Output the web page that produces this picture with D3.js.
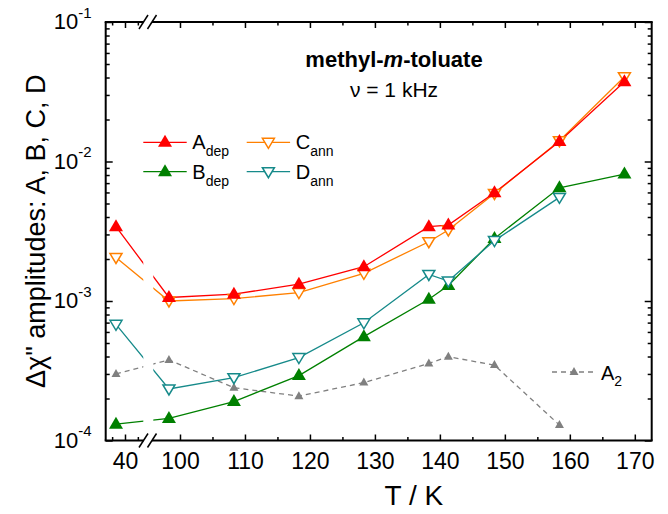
<!DOCTYPE html>
<html>
<head>
<meta charset="utf-8">
<script src="https://cdn.jsdelivr.net/npm/d3@7"></script>
<style>
  body { margin: 0; background: #fff; }
  text { font-family: "Liberation Sans", Arial, sans-serif; }
</style>
</head>
<body>
<svg id="chart" width="668" height="514"></svg>
<script>
// temperatures (K); first point sits in the low-T segment left of the axis break
const temps = [38.6, 98.3, 108.3, 118.3, 128.3, 138.3, 141.3, 148.4, 158.4, 168.4]

const aDep = [3.41e-3, 1.06e-3, 1.12e-3, 1.32e-3, 1.76e-3, 3.41e-3, 3.5e-3, 5.97e-3, 1.39e-2, 3.73e-2]
const cAnn = [2.05e-3, 1.0e-3, 1.04e-3, 1.15e-3, 1.58e-3, 2.66e-3, 3.23e-3, 5.9e-3, 1.41e-2, 4.05e-2]
const bDep = [1.31e-4, 1.44e-4, 1.90e-4, 2.92e-4, 5.55e-4, 1.03e-3, 1.29e-3, 2.81e-3, 6.48e-3, 8.13e-3]
const dAnn = [6.8e-4, 2.34e-4, 2.82e-4, 3.93e-4, 6.98e-4, 1.55e-3, 1.39e-3, 2.71e-3, 5.53e-3, null]
const a2   = [3.0e-4, 3.78e-4, 2.39e-4, 2.08e-4, 2.6e-4, 3.57e-4, 3.99e-4, 3.47e-4, 1.29e-4, null]

const xTicksLow = [40]
const xMinorLow = [38, 42]
const xTicksHigh = [100, 110, 120, 130, 140, 150, 160, 170]
const xMinorHigh = [105, 115, 125, 135, 145, 155, 165]
const yTicks = [1e-4, 1e-3, 1e-2, 1e-1]

const margin = {top: 22, left: 105.7, right: 668 - 651.7, bottom: 514 - 440.5}
const width = 668, height = 514
const breakX = 147.5

const svg = d3.select('#chart')

const xLow = d3.scaleLinear().domain([37, 43.5]).range([margin.left, breakX])
const xHigh = d3.scaleLinear().domain([95, 172.6]).range([breakX, width - margin.right])
const x = t => t < 70 ? xLow(t) : xHigh(t)

const y = d3.scaleLog().domain([1e-4, 1e-1]).range([height - margin.bottom, margin.top])

const yMinor = []
for (let e = -4; e < -1 + 0.1; e++) {
  for (let m = 2; m <= 9; m++) {
    const v = m * Math.pow(10, e)
    if (v < 1e-1) yMinor.push(v)
  }
}

const plotTop = margin.top, plotBot = height - margin.bottom
const plotL = margin.left, plotR = width - margin.right

// ---- series ----
const series = [
  {vals: a2, color: '#808080', dash: '5,4', marker: 'upSmall'},
  {vals: bDep, color: '#008000', marker: 'up'},
  {vals: dAnn, color: '#168a8a', marker: 'down'},
  {vals: cAnn, color: '#ff8000', marker: 'down'},
  {vals: aDep, color: '#ff0000', marker: 'up'}
]

const line = d3.line()
  .defined(d => d.v != null)
  .x(d => x(d.t))
  .y(d => y(d.v))

const lines = svg.append('g')
series.forEach(s => {
  const pts = temps.map((t, i) => ({t: t, v: s.vals[i]}))
  lines.append('path')
    .attr('d', line(pts))
    .attr('fill', 'none')
    .attr('stroke', s.color)
    .attr('stroke-width', 1.3)
    .attr('stroke-dasharray', s.dash || null)
})

// white gap where the lines cross the axis break
svg.append('rect')
  .attr('x', 143.3).attr('y', plotTop + 2)
  .attr('width', 10).attr('height', plotBot - plotTop - 4)
  .attr('fill', '#fff')

function marker(g, type, cx, cy, color) {
  if (type === 'up') {
    g.append('path')
      .attr('d', `M${cx},${cy - 7.5}L${cx + 7},${cy + 4.5}L${cx - 7},${cy + 4.5}Z`)
      .attr('fill', color)
  } else if (type === 'upSmall') {
    g.append('path')
      .attr('d', `M${cx},${cy - 5}L${cx + 4.5},${cy + 3}L${cx - 4.5},${cy + 3}Z`)
      .attr('fill', color)
  } else {
    g.append('path')
      .attr('d', `M${cx - 6},${cy - 4}L${cx + 6},${cy - 4}L${cx},${cy + 6}Z`)
      .attr('fill', '#fff')
      .attr('stroke', color)
      .attr('stroke-width', 1.5)
  }
}

const marks = svg.append('g')
series.forEach(s => {
  temps.forEach((t, i) => {
    if (s.vals[i] == null) return
    marker(marks, s.marker, x(t), y(s.vals[i]), s.color)
  })
})

// ---- axes ----
function xAxisPart(scale, major, minor, bottom) {
  const maker = bottom ? d3.axisBottom : d3.axisTop
  const ty = bottom ? plotBot : plotTop
  const gMaj = svg.append('g')
    .attr('transform', 'translate(0,' + ty + ')')
    .call(maker(scale).tickValues(major).tickSize(-6).tickPadding(bottom ? 12 : 0)
      .tickFormat(bottom ? d3.format('d') : ''))
  const gMin = svg.append('g')
    .attr('transform', 'translate(0,' + ty + ')')
    .call(maker(scale).tickValues(minor).tickSize(-3.5).tickFormat(''))
  ;[gMaj, gMin].forEach(g => {
    g.select('.domain').remove()
    g.selectAll('line').attr('stroke', '#000').attr('stroke-width', 1.5)
  })
  gMaj.selectAll('text').attr('font-size', 23).attr('fill', '#000')
    .attr('font-family', '"Liberation Sans", Arial, sans-serif')
}
xAxisPart(xLow, xTicksLow, xMinorLow, true)
xAxisPart(xHigh, xTicksHigh, xMinorHigh, true)
xAxisPart(xLow, xTicksLow, xMinorLow, false)
xAxisPart(xHigh, xTicksHigh, xMinorHigh, false)

function yAxisPart(left) {
  const maker = left ? d3.axisLeft : d3.axisRight
  const tx = left ? plotL : plotR
  const gMaj = svg.append('g')
    .attr('transform', 'translate(' + tx + ',0)')
    .call(maker(y).tickValues(yTicks).tickSize(-7).tickPadding(14)
      .tickFormat(left ? (d => '10') : ''))
  const gMin = svg.append('g')
    .attr('transform', 'translate(' + tx + ',0)')
    .call(maker(y).tickValues(yMinor).tickSize(-4).tickFormat(''))
  ;[gMaj, gMin].forEach(g => {
    g.select('.domain').remove()
    g.selectAll('line').attr('stroke', '#000').attr('stroke-width', 1.5)
  })
  if (left) {
    gMaj.selectAll('text')
      .attr('font-size', 22).attr('fill', '#000')
      .attr('font-family', '"Liberation Sans", Arial, sans-serif')
      .attr('dy', '0.3em')
      .text('10')
      .append('tspan')
      .attr('font-size', 15)
      .attr('dy', '-0.75em')
      .text(d => String(Math.round(Math.log10(d))))
  }
}
yAxisPart(true)
yAxisPart(false)

// frame, with gaps at the axis break
const frame = svg.append('g').attr('fill', 'none').attr('stroke', '#000').attr('stroke-width', 2)
frame.append('line').attr('x1', plotL).attr('x2', plotL).attr('y1', plotTop).attr('y2', plotBot)
frame.append('line').attr('x1', plotR).attr('x2', plotR).attr('y1', plotTop).attr('y2', plotBot)
;[plotTop, plotBot].forEach(yy => {
  frame.append('line').attr('x1', plotL - 1).attr('x2', 143.5).attr('y1', yy).attr('y2', yy)
  frame.append('line').attr('x1', 152).attr('x2', plotR + 1).attr('y1', yy).attr('y2', yy)
  ;[143.5, 152].forEach(bx => {
    svg.append('line')
      .attr('x1', bx - 4.5).attr('x2', bx + 4.5)
      .attr('y1', yy + 7).attr('y2', yy - 7)
      .attr('stroke', '#000').attr('stroke-width', 1.5)
  })
})

// ---- titles ----
svg.append('text')
  .attr('x', x(136)).attr('y', 505)
  .attr('text-anchor', 'middle')
  .attr('font-size', 28)
  .text('T / K')

svg.append('text')
  .attr('transform', 'translate(45,' + ((plotTop + plotBot) / 2) + ') rotate(-90)')
  .attr('text-anchor', 'middle')
  .attr('font-size', 27)
  .text('\u0394\u03c7" amplitudes: A, B, C, D')

const title = svg.append('text')
  .attr('x', 394).attr('y', 67)
  .attr('text-anchor', 'middle')
  .attr('font-size', 22)
  .attr('font-weight', 'bold')
title.append('tspan').text('methyl-')
title.append('tspan').attr('font-style', 'italic').text('m')
title.append('tspan').text('-toluate')

svg.append('text')
  .attr('x', 394).attr('y', 97)
  .attr('text-anchor', 'middle')
  .attr('font-size', 21)
  .text('\u03bd = 1 kHz')

// ---- legend ----
const legendItems = [
  {name: 'A', sub: 'dep', color: '#ff0000', marker: 'up', x0: 143.3, y0: 142.3},
  {name: 'B', sub: 'dep', color: '#008000', marker: 'up', x0: 143.3, y0: 171.7},
  {name: 'C', sub: 'ann', color: '#ff8000', marker: 'down', x0: 246.7, y0: 142.3},
  {name: 'D', sub: 'ann', color: '#168a8a', marker: 'down', x0: 246.7, y0: 171.7}
]
const leg = svg.append('g')
legendItems.forEach(it => {
  leg.append('line')
    .attr('x1', it.x0).attr('x2', it.x0 + 43.4)
    .attr('y1', it.y0).attr('y2', it.y0)
    .attr('stroke', it.color).attr('stroke-width', 1.3)
  marker(leg, it.marker, it.x0 + 21.7, it.y0, it.color)
  const t = leg.append('text')
    .attr('x', it.x0 + 49).attr('y', it.y0 + 7)
    .attr('font-size', 20)
  t.append('tspan').text(it.name)
  t.append('tspan').attr('font-size', 14).attr('dy', 7).text(it.sub)
})

// A2 label inside the plot
leg.append('line')
  .attr('x1', 552).attr('x2', 597).attr('y1', 372).attr('y2', 372)
  .attr('stroke', '#808080').attr('stroke-width', 1.3).attr('stroke-dasharray', '5,4')
marker(leg, 'upSmall', 574, 372, '#808080')
const a2t = leg.append('text').attr('x', 601).attr('y', 380).attr('font-size', 20)
a2t.append('tspan').text('A')
a2t.append('tspan').attr('font-size', 14).attr('dy', 6).text('2')
</script>
</body>
</html>
